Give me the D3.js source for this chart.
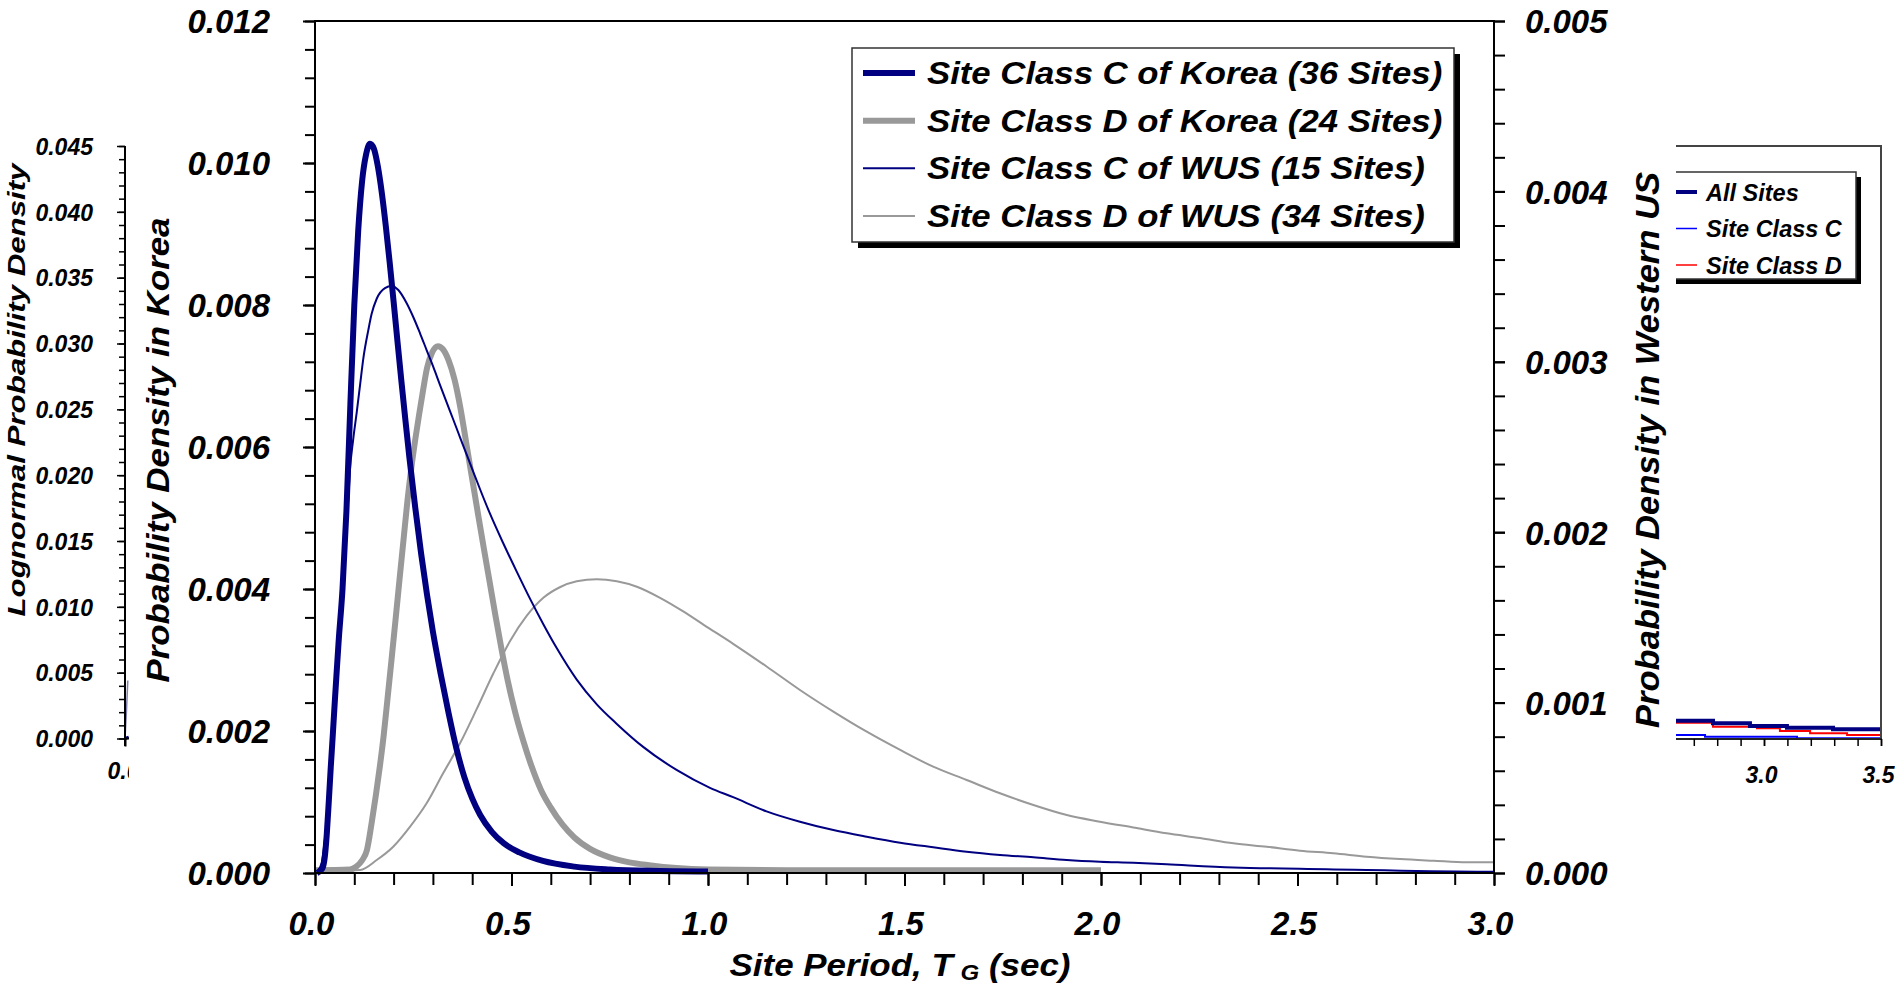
<!DOCTYPE html>
<html>
<head>
<meta charset="utf-8">
<script src="https://cdn.jsdelivr.net/npm/d3@7"></script>
<style>
  html, body { margin: 0; padding: 0; background: #fff; }
  svg { display: block; }
  text { font-family: "Liberation Sans", Arial, sans-serif; font-weight: bold; font-style: italic; fill: #000; }
</style>
</head>
<body>
<svg id="chart" width="1895" height="986"></svg>
<script>
// ---- Data: [site period T_G (sec), probability density] ----
const koreaC = [[0.005,0],[0.015,0.00004],[0.020,0.00008],[0.025,0.00023],[0.030,0.00055],[0.035,0.00100],
  [0.040,0.00148],[0.045,0.00192],[0.050,0.00238],[0.055,0.00282],[0.060,0.00325],[0.070,0.00400],
  [0.080,0.00510],[0.090,0.00660],[0.100,0.00800],[0.110,0.00905],[0.120,0.00975],[0.130,0.01012],
  [0.140,0.01027],[0.150,0.01020],[0.160,0.00995],[0.170,0.00958],[0.180,0.00912],[0.190,0.00860],
  [0.200,0.00805],[0.210,0.00748],[0.220,0.00692],[0.230,0.00638],[0.240,0.00586],[0.255,0.00515],
  [0.270,0.00450],[0.285,0.00392],[0.300,0.00340],[0.320,0.00280],[0.340,0.00225],[0.360,0.00175],
  [0.380,0.00135],[0.400,0.00105],[0.420,0.00082],[0.450,0.00058],[0.480,0.00042],[0.520,0.00029],
  [0.580,0.00017],[0.660,0.00009],[0.750,0.00005],[0.850,0.00003],[1.000,0.00002]];

const koreaD = [[0.000,0.00004],[0.089,0.00005],[0.105,0.00009],[0.120,0.00018],[0.132,0.00032],
  [0.144,0.00070],[0.155,0.00110],[0.165,0.00150],[0.175,0.00195],[0.185,0.00248],[0.195,0.00302],
  [0.205,0.00357],[0.215,0.00413],[0.225,0.00468],[0.235,0.00523],[0.245,0.00570],[0.255,0.00610],
  [0.265,0.00646],[0.275,0.00680],[0.285,0.00711],[0.298,0.00733],[0.313,0.00742],[0.325,0.00738],
  [0.340,0.00722],[0.355,0.00695],[0.370,0.00655],[0.385,0.00605],[0.400,0.00555],[0.415,0.00505],
  [0.430,0.00456],[0.445,0.00408],[0.460,0.00360],[0.475,0.00314],[0.490,0.00272],[0.510,0.00225],
  [0.530,0.00186],[0.550,0.00152],[0.575,0.00117],[0.600,0.00092],[0.630,0.00068],[0.660,0.00050],
  [0.700,0.00034],[0.750,0.00022],[0.800,0.00015],[0.850,0.00011],[0.920,0.00007],[1.000,0.00005],
  [1.200,0.00004],[2.000,0.00004]];

const wusC = [[0.008,0.000018],[0.017,0.000059],[0.025,0.000194],[0.034,0.000387],[0.042,0.000681],
  [0.047,0.000880],[0.059,0.001309],[0.069,0.001661],[0.078,0.001954],[0.085,0.002207],[0.089,0.002365],
  [0.097,0.002541],[0.106,0.002700],[0.115,0.002870],[0.123,0.003020],[0.136,0.003190],[0.144,0.003280],
  [0.157,0.003370],[0.178,0.003432],[0.195,0.003445],[0.212,0.003421],[0.233,0.003345],[0.250,0.003263],
  [0.267,0.003169],[0.284,0.003069],[0.301,0.002970],[0.318,0.002865],[0.335,0.002762],[0.352,0.002660],
  [0.369,0.002557],[0.386,0.002455],[0.403,0.002353],[0.420,0.002252],[0.445,0.002110],[0.479,0.001935],
  [0.513,0.001770],[0.547,0.001610],[0.581,0.001460],[0.615,0.001320],[0.666,0.001135],[0.717,0.000990],
  [0.768,0.000875],[0.835,0.000740],[0.920,0.000605],[1.005,0.000500],[1.064,0.000445],[1.149,0.000362],
  [1.234,0.000301],[1.319,0.000252],[1.404,0.000213],[1.489,0.000178],[1.573,0.000151],[1.658,0.000125],
  [1.743,0.000106],[1.828,0.000092],[1.913,0.000076],[1.997,0.000066],[2.082,0.000060],[2.167,0.000051],
  [2.337,0.000033],[2.574,0.000022],[2.956,0.000008],[3.000,0.000008]];

const wusD = [[0.000,0.000008],[0.115,0.000018],[0.157,0.000076],[0.199,0.000154],[0.242,0.000272],
  [0.284,0.000409],[0.326,0.000585],[0.369,0.000761],[0.411,0.000960],[0.454,0.001172],[0.496,0.001360],
  [0.539,0.001510],[0.581,0.001615],[0.623,0.001677],[0.666,0.001712],[0.717,0.001724],[0.768,0.001712],
  [0.819,0.001680],[0.878,0.001615],[0.937,0.001535],[0.990,0.001455],[1.064,0.001345],[1.149,0.001212],
  [1.234,0.001074],[1.319,0.000947],[1.404,0.000829],[1.489,0.000722],[1.573,0.000624],[1.658,0.000546],
  [1.743,0.000468],[1.828,0.000399],[1.913,0.000340],[1.997,0.000301],[2.082,0.000267],[2.167,0.000233],
  [2.252,0.000205],[2.337,0.000174],[2.422,0.000154],[2.506,0.000131],[2.591,0.000116],[2.676,0.000096],
  [2.761,0.000082],[2.846,0.000072],[2.931,0.000063],[3.000,0.000063]];

const seriesNames = [
  "Site Class C of Korea (36 Sites)",
  "Site Class D of Korea (24 Sites)",
  "Site Class C of WUS (15 Sites)",
  "Site Class D of WUS (34 Sites)"
];

// axis ticks of the main chart
const xTickValues = [0.0, 0.5, 1.0, 1.5, 2.0, 2.5, 3.0];
const xTickLabels = ["0.0", "0.5", "1.0", "1.5", "2.0", "2.5", "3.0"];
const koreaTickValues = [0.000, 0.002, 0.004, 0.006, 0.008, 0.010, 0.012];
const koreaTickLabels = ["0.000", "0.002", "0.004", "0.006", "0.008", "0.010", "0.012"];
const wusTickValues = [0.000, 0.001, 0.002, 0.003, 0.004, 0.005];
const wusTickLabels = ["0.000", "0.001", "0.002", "0.003", "0.004", "0.005"];

// lognormal density panel (partly visible at both page edges)
const lognTickValues = [0.000, 0.005, 0.010, 0.015, 0.020, 0.025, 0.030, 0.035, 0.040, 0.045];
const lognTickLabels = ["0.000", "0.005", "0.010", "0.015", "0.020", "0.025", "0.030", "0.035", "0.040", "0.045"];
const lognLeftXTickValues = [0.0];
const lognLeftXTickLabels = ["0.0"];
const lognRightXTickValues = [3.0, 3.5];
const lognRightXTickLabels = ["3.0", "3.5"];
const lognNames = ["All Sites", "Site Class C", "Site Class D"];
const lognHeadAll = [[0.000, 0.0000], [0.016, 0.0001]];
const lognHeadC = [[0.000, 0.0000], [0.006, 0.0020], [0.012, 0.0044]];
const lognTailAll = [[2.624, 0.00135], [2.782, 0.00115], [2.940, 0.00095], [3.098, 0.00082], [3.295, 0.00070], [3.500, 0.00070]];
const lognTailC = [[2.624, 0.00027], [2.748, 0.00014], [3.141, 0.00002], [3.500, 0.00002]];
const lognTailD = [[2.624, 0.00120], [2.782, 0.00090], [2.970, 0.00077], [3.068, 0.00057], [3.197, 0.00039], [3.355, 0.00027], [3.500, 0.00027]];

// ---- Drawing ----
const NAVY = "#000080", GREY = "#999999";
const svg = d3.select("#chart");
svg.append("rect").attr("width", 1895).attr("height", 986).attr("fill", "#fff");

function stretchText(sel, factor) {
  sel.each(function () {
    const len = this.getComputedTextLength();
    d3.select(this).attr("textLength", len * factor).attr("lengthAdjust", "spacingAndGlyphs");
  });
}
function range(a, b, step) {
  const n = Math.round((b - a) / step);
  return d3.range(n + 1).map(i => +(a + i * step).toFixed(6));
}

// main plot area
const P = { left: 315, right: 1494, top: 21, bottom: 873 };
const x = d3.scaleLinear().domain([0, 3]).range([P.left, P.right]);
const yK = d3.scaleLinear().domain([0, 0.012]).range([P.bottom, P.top]);
const yW = d3.scaleLinear().domain([0, 0.005]).range([P.bottom, P.top]);

const main = svg.append("g");

// curves
const lineK = d3.line().x(d => x(d[0])).y(d => yK(d[1])).curve(d3.curveMonotoneX);
const lineW = d3.line().x(d => x(d[0])).y(d => yW(d[1])).curve(d3.curveMonotoneX);
const curveLayer = main.append("g").attr("fill", "none").attr("stroke-linejoin", "round").attr("stroke-linecap", "butt");
curveLayer.append("path").attr("d", lineK(koreaD)).attr("stroke", GREY).attr("stroke-width", 6);
curveLayer.append("path").attr("d", lineW(wusD)).attr("stroke", GREY).attr("stroke-width", 2);
curveLayer.append("path").attr("d", lineK(koreaC)).attr("stroke", NAVY).attr("stroke-width", 6);
curveLayer.append("path").attr("d", lineW(wusC)).attr("stroke", NAVY).attr("stroke-width", 2);

// frame
main.append("rect").attr("x", P.left).attr("y", P.top)
  .attr("width", P.right - P.left).attr("height", P.bottom - P.top)
  .attr("fill", "none").attr("stroke", "#000").attr("stroke-width", 2);

function styleAxis(g, fontSize) {
  g.select(".domain").remove();
  g.selectAll(".tick line").attr("stroke", "#000").attr("stroke-width", 2);
  g.selectAll(".tick text").attr("font-size", fontSize).attr("font-family", null);
}

// left (Korea) axis
main.append("g").attr("transform", `translate(${P.left},0)`)
  .call(d3.axisLeft(yK).tickValues(range(0, 0.012, 0.0004)).tickSize(10).tickFormat(""))
  .call(g => styleAxis(g, 33));
main.append("g").attr("transform", `translate(${P.left},0)`)
  .call(d3.axisLeft(yK).tickValues(koreaTickValues).tickSize(12).tickPadding(33)
    .tickFormat((d, i) => koreaTickLabels[i]))
  .call(g => styleAxis(g, 33))
  .call(g => g.selectAll(".tick text").attr("dy", "0.36em"));

// right (WUS) axis
main.append("g").attr("transform", `translate(${P.right},0)`)
  .call(d3.axisRight(yW).tickValues(range(0, 0.005, 0.0002)).tickSize(11).tickFormat(""))
  .call(g => styleAxis(g, 33));
main.append("g").attr("transform", `translate(${P.right},0)`)
  .call(d3.axisRight(yW).tickValues(wusTickValues).tickSize(11).tickPadding(20)
    .tickFormat((d, i) => wusTickLabels[i]))
  .call(g => styleAxis(g, 33))
  .call(g => g.selectAll(".tick text").attr("dy", "0.36em"));

// bottom axis
main.append("g").attr("transform", `translate(0,${P.bottom})`)
  .call(d3.axisBottom(x).tickValues(range(0, 3, 0.1)).tickSize(12).tickFormat(""))
  .call(g => styleAxis(g, 33));
main.append("g").attr("transform", `translate(0,${P.bottom})`)
  .call(d3.axisBottom(x).tickValues(xTickValues).tickSize(13).tickPadding(26)
    .tickFormat((d, i) => xTickLabels[i]))
  .call(g => styleAxis(g, 33))
  .call(g => g.selectAll(".tick text").attr("dx", -4));

// axis titles
svg.append("text")
  .attr("transform", "translate(169,450) rotate(-90)")
  .attr("text-anchor", "middle").attr("font-size", 32)
  .attr("textLength", 465).attr("lengthAdjust", "spacingAndGlyphs")
  .text("Probability Density in Korea");
svg.append("text")
  .attr("transform", "translate(1659,450) rotate(-90)")
  .attr("text-anchor", "middle").attr("font-size", 33)
  .attr("textLength", 556).attr("lengthAdjust", "spacingAndGlyphs")
  .text("Probability Density in Western US");
const xTitle = svg.append("text")
  .attr("x", 900).attr("y", 976).attr("text-anchor", "middle").attr("font-size", 32);
xTitle.append("tspan").text("Site Period, T");
xTitle.append("tspan").attr("dx", 7).attr("dy", 4).attr("font-size", 22).text("G");
xTitle.append("tspan").attr("dy", -4).text(" (sec)");
xTitle.attr("textLength", 341).attr("lengthAdjust", "spacingAndGlyphs");

// legend
const legendStyles = [
  { color: NAVY, width: 6 }, { color: GREY, width: 6 },
  { color: NAVY, width: 2 }, { color: GREY, width: 2 }
];
const L = { x: 852, y: 48, w: 602, h: 194 };
const legend = svg.append("g");
legend.append("rect").attr("x", L.x + 6).attr("y", L.y + 6).attr("width", L.w).attr("height", L.h).attr("fill", "#000");
legend.append("rect").attr("x", L.x).attr("y", L.y).attr("width", L.w).attr("height", L.h)
  .attr("fill", "#fff").attr("stroke", "#333").attr("stroke-width", 1.5);
const legendRow = d3.scaleLinear().domain([0, 3]).range([73, 216]);
seriesNames.forEach((name, i) => {
  const cy = legendRow(i);
  legend.append("line").attr("x1", 863).attr("x2", 915).attr("y1", cy).attr("y2", cy)
    .attr("stroke", legendStyles[i].color).attr("stroke-width", legendStyles[i].width);
  legend.append("text").attr("x", 927).attr("y", cy + 11).attr("font-size", 31).text(name)
    .call(s => stretchText(s, 1.12));
});

// ---- lognormal density panel ----
const yL = d3.scaleLinear().domain([0, 0.045]).range([738.5, 146]);
const defs = svg.append("defs");
defs.append("clipPath").attr("id", "clipLeft").append("rect").attr("x", 0).attr("y", 0).attr("width", 129).attr("height", 986);
defs.append("clipPath").attr("id", "clipRight").append("rect").attr("x", 1676).attr("y", 0).attr("width", 219).attr("height", 986);

// left edge of the panel
const xLl = d3.scaleLinear().domain([0, 0.5]).range([125, 242]);
const leftPanel = svg.append("g").attr("clip-path", "url(#clipLeft)");
const lineLl = d3.line().x(d => xLl(d[0])).y(d => yL(d[1]));
leftPanel.append("path").attr("d", lineLl(lognHeadC)).attr("fill", "none").attr("stroke", "#8080b0").attr("stroke-width", 1.5);
leftPanel.append("path").attr("d", lineLl(lognHeadAll)).attr("fill", "none").attr("stroke", NAVY).attr("stroke-width", 3);
leftPanel.append("line").attr("x1", 125).attr("x2", 125).attr("y1", 146).attr("y2", 746).attr("stroke", "#000").attr("stroke-width", 2);
leftPanel.append("line").attr("x1", 125).attr("x2", 140).attr("y1", 738.5).attr("y2", 738.5).attr("stroke", "#000").attr("stroke-width", 2);
leftPanel.append("g").attr("transform", "translate(125,0)")
  .call(d3.axisLeft(yL).tickValues(range(0, 0.045, 0.001)).tickSize(6).tickFormat(""))
  .call(g => styleAxis(g, 23))
  .call(g => g.selectAll(".tick line").attr("stroke-width", 1.5));
leftPanel.append("g").attr("transform", "translate(125,0)")
  .call(d3.axisLeft(yL).tickValues(lognTickValues).tickSize(8).tickPadding(24)
    .tickFormat((d, i) => lognTickLabels[i]))
  .call(g => styleAxis(g, 23))
  .call(g => g.selectAll(".tick line").attr("stroke-width", 1.5))
  .call(g => g.selectAll(".tick text").attr("dy", "0.36em"));
leftPanel.append("g").attr("transform", "translate(0,738.5)")
  .call(d3.axisBottom(xLl).tickValues(lognLeftXTickValues).tickSize(8).tickPadding(16)
    .tickFormat((d, i) => lognLeftXTickLabels[i]))
  .call(g => styleAxis(g, 23))
  .call(g => g.selectAll(".tick text").attr("dx", -2));
svg.append("text")
  .attr("transform", "translate(25,390) rotate(-90)")
  .attr("text-anchor", "middle").attr("font-size", 23)
  .attr("textLength", 453).attr("lengthAdjust", "spacingAndGlyphs")
  .text("Lognormal Probability Density");

// right edge of the panel
const xLr = d3.scaleLinear().domain([3.0, 3.5]).range([1764, 1881]);
const rightPanel = svg.append("g").attr("clip-path", "url(#clipRight)");
const lineLr = d3.line().x(d => xLr(d[0])).y(d => yL(d[1])).curve(d3.curveStepAfter);
rightPanel.append("path").attr("d", lineLr(lognTailC)).attr("fill", "none").attr("stroke", "#0000ff").attr("stroke-width", 2);
rightPanel.append("path").attr("d", lineLr(lognTailD)).attr("fill", "none").attr("stroke", "#ff0000").attr("stroke-width", 2);
rightPanel.append("path").attr("d", lineLr(lognTailAll)).attr("fill", "none").attr("stroke", NAVY).attr("stroke-width", 4);
rightPanel.append("path").attr("d", "M1640,146H1881V739").attr("fill", "none").attr("stroke", "#444").attr("stroke-width", 2);
rightPanel.append("line").attr("x1", 1640).attr("x2", 1882).attr("y1", 739).attr("y2", 739).attr("stroke", "#222").attr("stroke-width", 2);
rightPanel.append("g").attr("transform", "translate(0,739)")
  .call(d3.axisBottom(xLr).tickValues(range(2.6, 3.5, 0.1)).tickSize(7).tickFormat(""))
  .call(g => styleAxis(g, 23))
  .call(g => g.selectAll(".tick line").attr("stroke-width", 1.5));
rightPanel.append("g").attr("transform", "translate(0,739)")
  .call(d3.axisBottom(xLr).tickValues(lognRightXTickValues).tickSize(7).tickPadding(21)
    .tickFormat((d, i) => lognRightXTickLabels[i]))
  .call(g => styleAxis(g, 23))
  .call(g => g.selectAll(".tick line").attr("stroke-width", 1.5))
  .call(g => g.selectAll(".tick text").attr("dx", -3));

// legend of the panel
const lognStyles = [
  { color: NAVY, width: 4 }, { color: "#0000ff", width: 1.5 }, { color: "#ff0000", width: 1.5 }
];
rightPanel.append("rect").attr("x", 1645).attr("y", 177).attr("width", 216).attr("height", 107).attr("fill", "#000");
rightPanel.append("rect").attr("x", 1640).attr("y", 172).attr("width", 216).attr("height", 107)
  .attr("fill", "#fff").attr("stroke", "#333").attr("stroke-width", 1.5);
const lognRow = d3.scaleLinear().domain([0, 2]).range([192, 265]);
lognNames.forEach((name, i) => {
  const cy = lognRow(i);
  rightPanel.append("line").attr("x1", 1660).attr("x2", 1697).attr("y1", cy).attr("y2", cy)
    .attr("stroke", lognStyles[i].color).attr("stroke-width", lognStyles[i].width);
  rightPanel.append("text").attr("x", 1706).attr("y", cy + 8.5).attr("font-size", 23.5).text(name);
});
</script>
</body>
</html>
